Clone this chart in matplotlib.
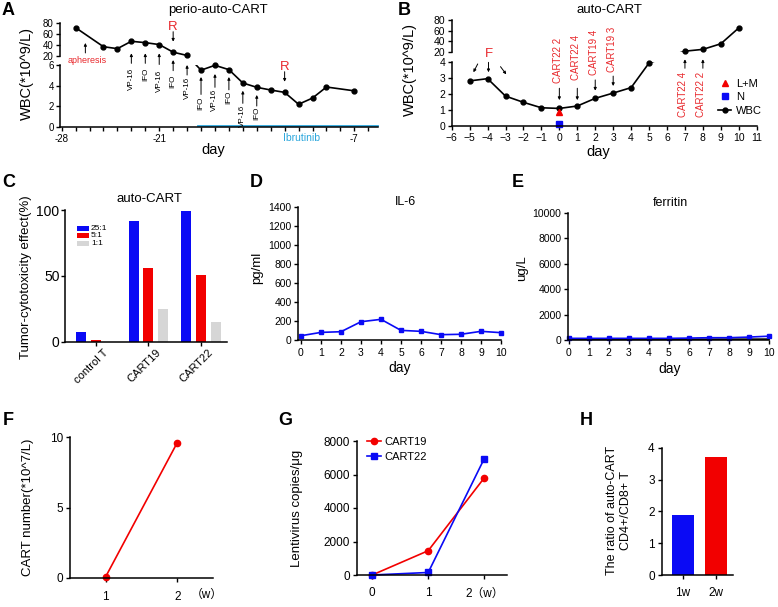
import matplotlib
matplotlib.use('Agg')
import matplotlib.pyplot as plt
from matplotlib.lines import Line2D
from matplotlib.patches import Rectangle
from matplotlib.ticker import FixedLocator, MultipleLocator
import matplotlib.transforms as mtransforms
import numpy as np

plt.rcParams['font.family'] = ['Liberation Sans', 'Noto Sans CJK SC', 'DejaVu Sans']
plt.rcParams['axes.linewidth'] = 1.1
plt.rcParams['xtick.direction'] = 'out'
plt.rcParams['ytick.direction'] = 'out'

# ---------------- data ----------------
# A  perio-auto-CART WBC
a_days_high = [-27, -25, -24, -23, -22, -21, -20, -19]
a_wbc_high = [72, 37, 33.5, 47, 44.5, 41, 27, 21]
a_days_low = [-18, -17, -16, -15, -14, -13, -12, -11, -10, -9, -7]
a_wbc_low = [5.5, 5.97, 5.55, 4.26, 3.84, 3.58, 3.35, 2.2, 2.8, 3.87, 3.5]
a_xticks = [-28, -21, -7]
a_drug_days = [-23, -22, -21, -20, -19, -18, -17, -16, -15, -14]
a_drug_names = ['VP-16', 'IFO', 'VP-16', 'IFO', 'VP-16', 'IFO', 'VP-16', 'IFO', 'VP-16', 'IFO']
a_r_days = [-20, -12]
a_apheresis_day = -26.3
a_ibrutinib_start = -18.2

# B  auto-CART WBC
b_days_low = [-5, -4, -3, -2, -1, 0, 1, 2, 3, 4, 5]
b_wbc_low = [2.8, 2.94, 1.85, 1.46, 1.12, 1.08, 1.23, 1.71, 2.04, 2.38, 3.92]
b_days_high = [7, 8, 9, 10]
b_wbc_high = [21, 24.4, 35, 65]
b_lm_day = [0]
b_lm_val = [0.875]
b_n_day = [0]
b_n_val = [0.12]
b_cart_days = [0, 1, 2, 3, 7, 8]
b_cart_labels = ['CART22 2', 'CART22 4', 'CART19 4', 'CART19 3', 'CART22 4', 'CART22 2']
b_xticks = list(range(-6, 12))

# C  cytotoxicity
c_groups = ['control T', 'CART19', 'CART22']
c_ratio_labels = ['25:1', '5:1', '1:1']
c_25 = [7.6, 91.4, 99.5]
c_5 = [1.0, 56, 51]
c_1 = [0.0, 25, 15]

# D  IL-6
d_days = list(range(11))
d_il6 = [45, 80, 87, 192, 217, 101, 91, 56, 60, 91, 77]

# E  ferritin
e_days = list(range(11))
e_ferritin = [130, 130, 130, 130, 130, 130, 150, 180, 180, 230, 300]
e_ferritin_b = [60, 55, 55, 55, 55, 55, 60, 60, 65, 65, 70]

# F  CART number
f_weeks = [1, 2]
f_cart = [0.1, 9.6]

# G  lentivirus copies
g_weeks = [0, 1, 2]
g_cart19 = [0, 1450, 5800]
g_cart22 = [0, 150, 6950]
g_ticklabels = ['0', '1', '2（w）']

# H  CD4/CD8 ratio
h_labels = ['1w', '2w']
h_ratio = [1.9, 3.7]

# ---------------- styling ----------------
BLUE = '#0a0af5'
RED = '#f20000'
TRED = '#e8282c'
GRAY = '#d6d6d6'
IBR = '#2aa6dc'

W, H = 778, 607
fig = plt.figure(figsize=(W / 100, H / 100), dpi=100)


def add_ax(l, t, r, b):
    return fig.add_axes([l / W, 1 - b / H, (r - l) / W, (b - t) / H])


def style(ax, labelsize=7.5, pad=1.5):
    ax.spines['top'].set_visible(False)
    ax.spines['right'].set_visible(False)
    ax.tick_params(direction='out', length=3, width=1, labelsize=labelsize, pad=pad)
    ax.patch.set_alpha(0)


def ftext(x, y, s, **kw):
    kw.setdefault('ha', 'center')
    kw.setdefault('va', 'center')
    fig.text(x / W, 1 - y / H, s, **kw)


def arrow(ax, x0, y0, x1, y1, color='k', lw=0.8, ms=5):
    ax.annotate('', xy=(x1, y1), xytext=(x0, y0),
                arrowprops=dict(arrowstyle='-|>', color=color, lw=lw,
                                mutation_scale=ms, shrinkA=0, shrinkB=0),
                annotation_clip=False)


def bridge(ax_from, p_from, ax_to, p_to, **kw):
    d_from = ax_from.transData.transform(p_from)
    d_to = ax_to.transData.transform(p_to)
    for ax in (ax_from, ax_to):
        inv = ax.transData.inverted()
        q0 = inv.transform(d_from)
        q1 = inv.transform(d_to)
        ax.plot([q0[0], q1[0]], [q0[1], q1[1]], clip_on=True, **kw)


# ================= Panel A =================
ax_a_hi = add_ax(60, 23.3, 378, 56)
ax_a_lo = add_ax(60, 65, 378, 127)
for ax in (ax_a_hi, ax_a_lo):
    style(ax, labelsize=7)
    ax.set_xlim(-28.12, -5.3)
ax_a_hi.set_ylim(20, 80)
ax_a_lo.set_ylim(0, 6)
ax_a_hi.spines['bottom'].set_visible(False)
ax_a_hi.tick_params(axis='x', bottom=False, labelbottom=False)
ax_a_hi.set_yticks([20, 40, 60, 80])
ax_a_lo.set_yticks([0, 2, 4, 6])
ax_a_lo.xaxis.set_major_locator(FixedLocator(a_xticks))
ax_a_lo.xaxis.set_minor_locator(MultipleLocator(1))
ax_a_lo.tick_params(axis='x', which='minor', length=3, width=1)
ax_a_lo.tick_params(axis='x', which='major', pad=2)
ax_a_lo.set_xticklabels([str(v) for v in a_xticks])

line_kw = dict(color='k', lw=1.2)
ax_a_hi.plot(a_days_high, a_wbc_high, marker='o', ms=3.5, clip_on=False, **line_kw)
ax_a_lo.plot(a_days_low, a_wbc_low, marker='o', ms=3.5, clip_on=False, **line_kw)
bridge(ax_a_hi, (a_days_high[-1], a_wbc_high[-1]), ax_a_lo, (a_days_low[0], a_wbc_low[0]), **line_kw)

# drug arrows / labels (head, tail, text top) in lower-axis units
a_drug_layout = [(7.13, 6.16, 5.7), (7.13, 6.16, 5.7), (7.13, 6.05, 5.5),
                 (6.48, 5.45, 5.03), (6.0, 5.03, 4.84), (4.84, 3.15, 2.95),
                 (5.13, 3.84, 3.72), (4.84, 3.6, 3.5), (3.51, 2.29, 2.17), (3.1, 2.03, 1.93)]
for d, name, (hd, tl, tt) in zip(a_drug_days, a_drug_names, a_drug_layout):
    arrow(ax_a_lo, d, tl, d, hd, lw=0.7, ms=4)
    ax_a_lo.text(d, tt, name, rotation=90, ha='center', va='top', fontsize=5.8, clip_on=False)

# R markers
ax_a_hi.text(a_r_days[0], 73.8, 'R', color=TRED, fontsize=9.5, ha='center', va='center')
arrow(ax_a_hi, a_r_days[0], 64.6, a_r_days[0], 46.3, lw=0.7, ms=4)
ax_a_lo.text(a_r_days[1], 5.84, 'R', color=TRED, fontsize=9.5, ha='center', va='center', clip_on=False)
arrow(ax_a_lo, a_r_days[1], 5.35, a_r_days[1], 4.38, lw=0.7, ms=4)

# apheresis
ax_a_lo.text(a_apheresis_day + 0.1, 6.42, 'apheresis', color=TRED, fontsize=6.5,
             ha='center', va='center', clip_on=False)
arrow(ax_a_hi, a_apheresis_day, 25.6, a_apheresis_day, 43.9, lw=0.7, ms=4)

# Ibrutinib
ax_a_lo.plot([a_ibrutinib_start, -5.3], [0.12, 0.12], color=IBR, lw=1.3, clip_on=False)
ax_a_lo.text(-10.8, -1.05, 'Ibrutinib', color=IBR, fontsize=7.5, ha='center', va='center', clip_on=False)

ftext(26.7, 73, 'WBC(*10^9/L)', rotation=90, fontsize=10.5)
ftext(213, 150, 'day', fontsize=10.5)
ftext(218, 10, 'perio-auto-CART', fontsize=9.5)
ftext(2, 15, 'A', fontsize=13, fontweight='bold', ha='left', va='baseline')

# ================= Panel B =================
ax_b_hi = add_ax(451.7, 20, 756.7, 51.7)
ax_b_lo = add_ax(451.7, 61.7, 756.7, 125.7)
for ax in (ax_b_hi, ax_b_lo):
    style(ax, labelsize=7.5)
    ax.set_xlim(-6, 11)
ax_b_hi.set_ylim(20, 80)
ax_b_lo.set_ylim(0, 4)
ax_b_hi.spines['bottom'].set_visible(False)
ax_b_hi.tick_params(axis='x', bottom=False, labelbottom=False)
ax_b_hi.set_yticks([20, 40, 60, 80])
ax_b_lo.set_yticks([0, 1, 2, 3, 4])
ax_b_lo.set_xticks(b_xticks)
ax_b_lo.tick_params(axis='x', pad=2.5)

ax_b_lo.plot(b_days_low, b_wbc_low, marker='o', ms=3.5, clip_on=False, **line_kw)
ax_b_hi.plot(b_days_high, b_wbc_high, marker='o', ms=3.5, clip_on=False, **line_kw)
bridge(ax_b_lo, (b_days_low[-1], b_wbc_low[-1]), ax_b_hi, (b_days_high[0], b_wbc_high[0]), **line_kw)
ax_b_lo.plot(b_lm_day, b_lm_val, linestyle='none', marker='^', color=RED, ms=5, clip_on=False)
ax_b_lo.plot(b_n_day, b_n_val, linestyle='none', marker='s', color=BLUE, ms=4.5, clip_on=False)

# F arrows
ax_b_lo.text(-3.95, 4.5, 'F', color=TRED, fontsize=9.5, ha='center', va='center', clip_on=False)
arrow(ax_b_lo, -4.55, 3.86, -4.79, 3.34, lw=0.7, ms=4)
arrow(ax_b_lo, -3.95, 3.96, -3.95, 3.34, lw=0.7, ms=4)
arrow(ax_b_lo, -3.28, 3.69, -2.96, 3.21, lw=0.7, ms=4)

# CART infusion labels
b_cart_layout = [  # (text y, text va, arrow tail, arrow head)
    (2.65, 'bottom', 2.34, 1.6),
    (2.86, 'bottom', 2.34, 1.6),
    (3.17, 'bottom', 2.86, 2.19),
    (3.38, 'bottom', 3.1, 2.48),
    (3.36, 'top', 3.59, 4.15),
    (3.36, 'top', 3.59, 4.15),
]
for d, lab, (ty, va, tl, hd) in zip(b_cart_days, b_cart_labels, b_cart_layout):
    ax_b_lo.text(d - 0.08, ty, lab, rotation=90, color=TRED, fontsize=7, ha='center', va=va, clip_on=False)
    arrow(ax_b_lo, d, tl, d, hd, lw=0.7, ms=4)

b_handles = [Line2D([], [], linestyle='none', marker='^', color=RED, ms=5),
             Line2D([], [], linestyle='none', marker='s', color=BLUE, ms=4.5),
             Line2D([], [], color='k', lw=1.2, marker='o', ms=3.5)]
ax_b_lo.legend(b_handles, ['L+M', 'N', 'WBC'], loc='upper left',
               bbox_to_anchor=(718 / W, 1 - 79 / H), bbox_transform=fig.transFigure,
               frameon=False, fontsize=8, handlelength=1.2, handletextpad=0.4,
               labelspacing=0.3, borderpad=0, borderaxespad=0)

ftext(410, 69, 'WBC(*10^9/L)', rotation=90, fontsize=10.5)
ftext(598, 151.7, 'day', fontsize=10.5)
ftext(609, 10, 'auto-CART', fontsize=9.5)
ftext(398, 15, 'B', fontsize=13, fontweight='bold', ha='left', va='baseline')

# ================= Panel C =================
ax_c = add_ax(65, 210, 226.7, 341.7)
style(ax_c, labelsize=10, pad=1)
xc = np.arange(len(c_groups))
bw = 0.19
off = 0.279
ax_c.bar(xc - off, c_25, bw, color=BLUE)
ax_c.bar(xc, c_5, bw, color=RED)
ax_c.bar(xc + off, c_1, bw, color=GRAY)
ax_c.set_xlim(-0.58, 2.49)
ax_c.set_ylim(0, 100)
ax_c.set_yticks([0, 50, 100])
ax_c.set_xticks(xc)
ax_c.set_xticklabels(c_groups, rotation=45, ha='right', va='top', rotation_mode='anchor', fontsize=8)
shift = mtransforms.ScaledTranslation(7 / 100, 0, fig.dpi_scale_trans)
for lab in ax_c.get_xticklabels():
    lab.set_transform(lab.get_transform() + shift)
for i, (lab, col) in enumerate(zip(c_ratio_labels, [BLUE, RED, GRAY])):
    yc = 228.3 + 7.5 * i
    fig.add_artist(Rectangle((77 / W, 1 - (yc + 2.6) / H), 12 / W, 5.2 / H,
                             transform=fig.transFigure, color=col, lw=0))
    ftext(91, yc, lab, fontsize=6, ha='left')

ftext(26, 277, 'Tumor-cytotoxicity effect(%)', rotation=90, fontsize=9.5)
ftext(149, 199, 'auto-CART', fontsize=9.5)
ftext(2, 187, 'C', fontsize=13, fontweight='bold', ha='left', va='baseline')

# ================= Panel D =================
ax_d = add_ax(298, 206.7, 501, 340)
style(ax_d, labelsize=7.5, pad=1.5)
ax_d.plot(d_days, d_il6, '-s', color=BLUE, ms=3.5, lw=1.2, clip_on=False)
ax_d.set_xlim(-0.15, 10.0)
ax_d.set_ylim(0, 1400)
ax_d.set_yticks(range(0, 1401, 200))
ax_d.set_xticks(d_days)
ax_d.tick_params(axis='x', pad=2.5)
ftext(256.7, 268, 'pg/ml', rotation=90, fontsize=9.5)
ftext(400, 368, 'day', fontsize=10)
ftext(405, 202, 'IL-6', fontsize=9)
ftext(250, 187, 'D', fontsize=13, fontweight='bold', ha='left', va='baseline')

# ================= Panel E =================
ax_e = add_ax(567.7, 213, 769, 340)
style(ax_e, labelsize=7.5, pad=1.5)
ax_e.plot(e_days, e_ferritin_b, '-', color='k', lw=1.2, clip_on=False)
ax_e.plot(e_days, e_ferritin, '-s', color=BLUE, ms=3.5, lw=1.2, clip_on=False)
ax_e.set_xlim(-0.05, 10.0)
ax_e.set_ylim(0, 10000)
ax_e.set_yticks(range(0, 10001, 2000))
ax_e.set_xticks(e_days)
ax_e.tick_params(axis='x', pad=2.5)
ftext(521.7, 268, 'ug/L', rotation=90, fontsize=9.5)
ftext(670, 369, 'day', fontsize=10)
ftext(670.7, 203, 'ferritin', fontsize=9)
ftext(512, 187, 'E', fontsize=13, fontweight='bold', ha='left', va='baseline')

# ================= Panel F =================
ax_f = add_ax(70, 437, 213, 578)
style(ax_f, labelsize=8.5, pad=2)
ax_f.plot(f_weeks, f_cart, '-o', color=RED, ms=4.5, lw=1.2, clip_on=False)
ax_f.set_xlim(0.5, 2.5)
ax_f.set_ylim(0, 10)
ax_f.set_yticks([0, 5, 10])
ax_f.set_xticks(f_weeks)
ax_f.tick_params(axis='x', pad=6)
ftext(207, 595, '（w）', fontsize=8.5)
ftext(28, 507, 'CART number(*10^7/L)', rotation=90, fontsize=9.5)
ftext(3, 425, 'F', fontsize=13, fontweight='bold', ha='left', va='baseline')

# ================= Panel G =================
ax_g = add_ax(357, 441, 506.7, 575)
style(ax_g, labelsize=8.5, pad=2)
ax_g.plot(g_weeks, g_cart19, '-o', color=RED, ms=4.5, lw=1.2, clip_on=False, label='CART19')
ax_g.plot(g_weeks, g_cart22, '-s', color=BLUE, ms=4.5, lw=1.2, clip_on=False, label='CART22')
ax_g.set_xlim(-0.27, 2.4)
ax_g.set_ylim(0, 8000)
ax_g.set_yticks(range(0, 8001, 2000))
ax_g.set_xticks(g_weeks)
ax_g.set_xticklabels(g_ticklabels)
ax_g.tick_params(axis='x', pad=6)
ax_g.legend(loc='upper left', bbox_to_anchor=(367 / W, 1 - 437 / H), bbox_transform=fig.transFigure,
            frameon=False, fontsize=8, handlelength=1.3, handletextpad=0.3,
            labelspacing=0.45, borderpad=0, borderaxespad=0)
ftext(296.7, 508, 'Lentivirus copies/μg', rotation=90, fontsize=9.5)
ftext(278, 425, 'G', fontsize=13, fontweight='bold', ha='left', va='baseline')

# ================= Panel H =================
ax_h = add_ax(661.7, 447.7, 733, 575)
style(ax_h, labelsize=8.5, pad=2)
xh = np.arange(len(h_labels))
ax_h.bar(xh, h_ratio, 0.65, color=[BLUE, RED])
ax_h.set_xlim(-0.63, 1.5)
ax_h.set_ylim(0, 4)
ax_h.set_yticks([0, 1, 2, 3, 4])
ax_h.set_xticks(xh)
ax_h.set_xticklabels(h_labels)
ax_h.tick_params(axis='x', pad=6)
ftext(619, 510, 'The ratio of auto-CART\nCD4+/CD8+ T', rotation=90, fontsize=9, linespacing=1.15)
ftext(580, 425, 'H', fontsize=13, fontweight='bold', ha='left', va='baseline')

fig.savefig('out.png', dpi=100)
